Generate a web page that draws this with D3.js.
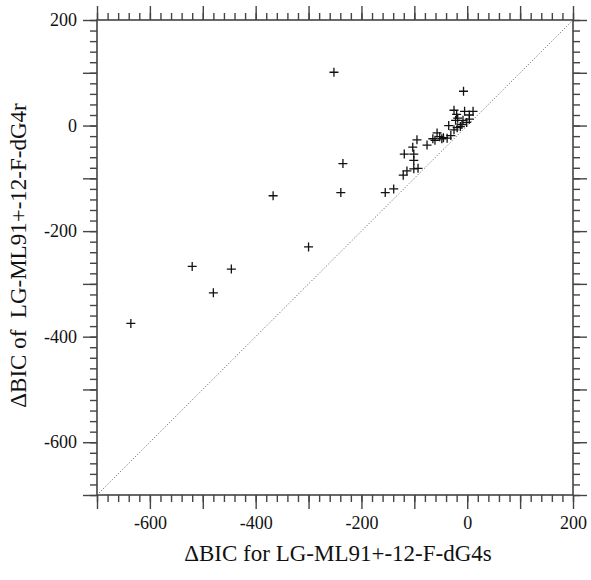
<!DOCTYPE html>
<html>
<head>
<meta charset="utf-8">
<script src="https://cdn.jsdelivr.net/npm/d3@7"></script>
<style>
  body { margin: 0; background: #fff; }
  svg text { font-family: "Liberation Serif", Tinos, "Times New Roman", Times, "Nimbus Roman", "Noto Serif", "DejaVu Serif", FreeSerif, serif !important; }
</style>
</head>
<body>
<div id="visual"></div>
<script>
let margin = { top: 20, right: 18, bottom: 85, left: 97 },
    width = 591,
    height = 580

// ΔBIC values (s model on x, r model on y)
let bicS = [-252, -367, -235, -239, -155, -139, -300, -520, -446, -480, -636,
    -7, -25, -5, 11, 4, -20, -18, -22, -8, -1, 4, -10, -35, -19, -25, -13,
    -57, -52, -45, -31, -38, -65, -95, -61, -48, -76, -103, -119, -101, -101,
    -93, -101, -114, -121]
let bicR = [101, -133, -72, -127, -127, -120, -230, -267, -272, -317, -375,
    65, 29, 27, 27, 20, 21, 14, 10, 10, 6, 12, 2, 0, -4, -8, -2,
    -14, -21, -23, -19, -24, -25, -27, -28, -25, -37, -41, -54, -54, -66,
    -81, -82, -86, -94]

let axisDomain = [-700, 200]
let labelValues = [-600, -400, -200, 0, 200]

let plotW = width - margin.left - margin.right,
    plotH = height - margin.top - margin.bottom

let svg = d3.select("#visual")
    .append("svg")
    .attr("width", width)
    .attr("height", height)

let g = svg.append("g")
    .attr("transform", "translate(" + margin.left + "," + margin.top + ")")

let x = d3.scaleLinear().domain(axisDomain).range([0, plotW])
let y = d3.scaleLinear().domain(axisDomain).range([plotH, 0])

let minorTicks = d3.range(axisDomain[0], axisDomain[1] + 1, 20)
let majorTicks = d3.range(axisDomain[0], axisDomain[1] + 1, 100)
let fmt = d => labelValues.includes(d) ? d : ""

function styleAxis(sel) {
    sel.attr("font-family", null).attr("font-size", 18)
    sel.selectAll("line").attr("stroke", "#444").attr("stroke-width", 1.4)
    sel.select(".domain").remove()
    sel.selectAll("text").attr("fill", "#111")
}

// minor ticks, all four sides
g.append("g").attr("transform", "translate(0," + plotH + ")")
    .call(d3.axisBottom(x).tickValues(minorTicks).tickSize(7).tickFormat("")).call(styleAxis)
g.append("g")
    .call(d3.axisTop(x).tickValues(minorTicks).tickSize(7).tickFormat("")).call(styleAxis)
g.append("g")
    .call(d3.axisLeft(y).tickValues(minorTicks).tickSize(7).tickFormat("")).call(styleAxis)
g.append("g").attr("transform", "translate(" + plotW + ",0)")
    .call(d3.axisRight(y).tickValues(minorTicks).tickSize(7).tickFormat("")).call(styleAxis)

// major ticks
g.append("g").attr("transform", "translate(0," + plotH + ")")
    .call(d3.axisBottom(x).tickValues(majorTicks).tickSize(14).tickPadding(7).tickFormat(fmt)).call(styleAxis)
g.append("g")
    .call(d3.axisTop(x).tickValues(majorTicks).tickSize(14).tickFormat("")).call(styleAxis)
g.append("g")
    .call(d3.axisLeft(y).tickValues(majorTicks).tickSize(14).tickPadding(6).tickFormat(fmt)).call(styleAxis)
g.append("g").attr("transform", "translate(" + plotW + ",0)")
    .call(d3.axisRight(y).tickValues(majorTicks).tickSize(14).tickFormat("")).call(styleAxis)

// frame
g.append("rect")
    .attr("width", plotW)
    .attr("height", plotH)
    .attr("fill", "none")
    .attr("stroke", "#444")
    .attr("stroke-width", 1.6)

// 1:1 line
g.append("line")
    .attr("x1", x(axisDomain[0]))
    .attr("y1", y(axisDomain[0]))
    .attr("x2", x(axisDomain[1]))
    .attr("y2", y(axisDomain[1]))
    .attr("stroke", "#555")
    .attr("stroke-width", 1)
    .attr("stroke-dasharray", "1,2")

// crosses
let pts = bicS.map((d, i) => ({ s: d, r: bicR[i] }))
let arm = 4.5
g.selectAll("cross")
    .data(pts)
    .enter()
    .append("path")
    .attr("d", d => {
        let cx = x(d.s), cy = y(d.r)
        return "M" + (cx - arm) + "," + cy + "H" + (cx + arm) +
            "M" + cx + "," + (cy - arm) + "V" + (cy + arm)
    })
    .attr("stroke", "#111")
    .attr("stroke-width", 1.3)
    .attr("fill", "none")

// axis titles
svg.append("text")
    .attr("x", margin.left + plotW / 2 + 3)
    .attr("y", 561)
    .attr("text-anchor", "middle")
    .attr("font-size", 23)
    .attr("fill", "#111")
    .text("\u0394BIC for LG-ML91+-12-F-dG4s")

svg.append("text")
    .attr("transform", "translate(26," + (margin.top + plotH / 2 - 2) + ") rotate(-90)")
    .attr("text-anchor", "middle")
    .attr("font-size", 23)
    .style("white-space", "pre")
    .attr("fill", "#111")
    .text("\u0394BIC of  LG-ML91+-12-F-dG4r")
</script>
</body>
</html>
